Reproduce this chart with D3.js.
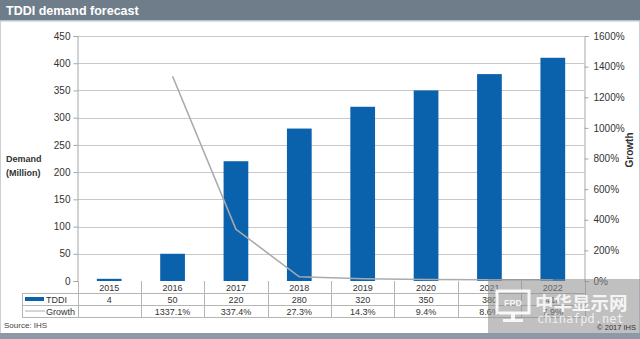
<!DOCTYPE html>
<html><head><meta charset="utf-8">
<script src="https://cdn.jsdelivr.net/npm/d3@7"></script>
<style>body{margin:0;background:#fff}svg{display:block;font-family:Arial,"Liberation Sans",sans-serif}</style>
</head><body>
<svg id="c" width="640" height="339"></svg>
<script>
const categories = ["2015","2016","2017","2018","2019","2020","2021","2022"];
const tddi = [4, 50, 220, 280, 320, 350, 380, 410];
const growth = [null, 1337.1, 337.4, 27.3, 14.3, 9.4, 8.6, 7.9];
const growthLabels = ["", "1337.1%", "337.4%", "27.3%", "14.3%", "9.4%", "8.6%", "7.9%"];
const leftTicks = [0,50,100,150,200,250,300,350,400,450];
const rightTicks = [0,200,400,600,800,1000,1200,1400,1600];

const svg = d3.select("#c");
const L = 77.5, R = 584.5, T = 36, B = 281;

// background frame
svg.append("rect").attr("x",0.5).attr("y",0.5).attr("width",639).attr("height",333).attr("fill","#fff").attr("stroke","#c9d0d8");
svg.append("rect").attr("x",0).attr("y",0).attr("width",640).attr("height",20).attr("fill","#6f7d8a");
svg.append("rect").attr("x",0).attr("y",20).attr("width",640).attr("height",1.5).attr("fill","#b8c3cf");
svg.append("text").attr("x",6).attr("y",14.5).attr("fill","#fff").attr("font-weight","bold").attr("font-size",12.5).text("TDDI demand forecast");
svg.append("rect").attr("x",0).attr("y",333).attr("width",640).attr("height",6).attr("fill","#8e99a8");

const x = d3.scaleBand().domain(categories).range([L,R]).paddingInner(0.61).paddingOuter(0.305);
const xb = d3.scaleBand().domain(categories).range([L,R]);
const y = d3.scaleLinear().domain([0,450]).range([B,T]);
const y2 = d3.scaleLinear().domain([0,1600]).range([B,T]);

// gridlines
svg.append("g").selectAll("line").data(leftTicks.filter(d=>d>0)).join("line")
  .attr("x1",L).attr("x2",R).attr("y1",d=>Math.round(y(d))+0.5).attr("y2",d=>Math.round(y(d))+0.5)
  .attr("stroke","#c8c8c8").attr("stroke-width",1);

// left axis
const la = svg.append("g").attr("transform",`translate(${L},0)`)
  .call(d3.axisLeft(y).tickValues(leftTicks).tickSize(4).tickPadding(3));
la.select(".domain").attr("stroke","#a6a6a6");
la.selectAll(".tick line").attr("stroke","#a6a6a6");
la.selectAll("text").attr("font-size",10).attr("fill","#333").attr("font-family","Arial, Liberation Sans, sans-serif");

// right axis
const ra = svg.append("g").attr("transform",`translate(${R},0)`)
  .call(d3.axisRight(y2).tickValues(rightTicks).tickSize(4).tickPadding(5).tickFormat(d=>d+"%"));
ra.select(".domain").attr("stroke","#a6a6a6");
ra.selectAll(".tick line").attr("stroke","#a6a6a6");
ra.selectAll("text").attr("font-size",10).attr("fill","#333").attr("font-family","Arial, Liberation Sans, sans-serif");

// bars
svg.append("g").selectAll("rect").data(tddi).join("rect")
  .attr("x",(d,i)=>x(categories[i])).attr("width",x.bandwidth())
  .attr("y",d=>y(d)).attr("height",d=>B-y(d)).attr("fill","#0a62ad");

// growth line
const line = d3.line().defined(d=>d.v!=null).x(d=>xb(d.c)+xb.bandwidth()/2).y(d=>y2(d.v));
svg.append("path").datum(categories.map((c,i)=>({c,v:growth[i]})))
  .attr("d",line).attr("fill","none").attr("stroke","#a8acb0").attr("stroke-width",1.6);

// axis titles
const dl = svg.append("text").attr("font-size",9).attr("font-weight","bold").attr("fill","#333");
dl.append("tspan").attr("x",6).attr("y",162).text("Demand");
dl.append("tspan").attr("x",6).attr("y",176).text("(Million)");
svg.append("text").attr("transform","translate(633,150) rotate(-90)").attr("text-anchor","middle")
  .attr("font-size",10).attr("font-weight","bold").attr("fill","#333").text("Growth");

// data table
const tb = svg.append("g");
const TL = 22.5;
tb.selectAll("line.v").data(d3.range(categories.length+1)).join("line")
  .attr("x1",i=>Math.round(xb.range()[0]+i*xb.bandwidth())+0.5).attr("x2",i=>Math.round(xb.range()[0]+i*xb.bandwidth())+0.5)
  .attr("y1",B).attr("y2",317.5).attr("stroke","#b5b5b5");
tb.append("line").attr("x1",TL).attr("x2",TL).attr("y1",293).attr("y2",317.5).attr("stroke","#b5b5b5");
[293.5,305.5,317.5].forEach(yy=>tb.append("line").attr("x1",TL).attr("x2",R).attr("y1",yy).attr("y2",yy).attr("stroke","#b5b5b5"));

const cx = c => xb(c)+xb.bandwidth()/2;
tb.selectAll("text.yr").data(categories).join("text").attr("x",cx).attr("y",291).attr("text-anchor","middle")
  .attr("font-size",9).attr("fill","#333").text(d=>d);
tb.selectAll("text.td").data(tddi).join("text").attr("x",(d,i)=>cx(categories[i])).attr("y",302.5).attr("text-anchor","middle")
  .attr("font-size",9).attr("fill","#333").text(d=>d);
tb.selectAll("text.gr").data(growthLabels).join("text").attr("x",(d,i)=>cx(categories[i])).attr("y",314.5).attr("text-anchor","middle")
  .attr("font-size",9).attr("fill","#333").text(d=>d);
// legend keys
tb.append("rect").attr("x",25).attr("y",297).attr("width",19).attr("height",4).attr("fill","#0a62ad");
tb.append("text").attr("x",46).attr("y",302.5).attr("font-size",9).attr("fill","#333").text("TDDI");
tb.append("line").attr("x1",25).attr("x2",45).attr("y1",311).attr("y2",311).attr("stroke","#a8acb0").attr("stroke-width",1);
tb.append("text").attr("x",46).attr("y",314.5).attr("font-size",9).attr("fill","#333").text("Growth");

svg.append("text").attr("x",4).attr("y",328).attr("font-size",8).attr("fill","#444").text("Source: IHS");

// watermark overlay
const wm = svg.append("g");
wm.append("rect").attr("x",488).attr("y",279).attr("width",152).attr("height",54).attr("fill","#8c8c8c").attr("opacity",0.55);
wm.append("rect").attr("x",497).attr("y",291).attr("width",32).attr("height",22).attr("fill","none").attr("stroke","#fff").attr("stroke-width",3).attr("opacity",0.9);
wm.append("text").attr("x",513).attr("y",306).attr("text-anchor","middle").attr("font-size",9).attr("font-weight","bold").attr("fill","#fff").attr("opacity",0.85).text("FPD");
wm.append("rect").attr("x",511).attr("y",314).attr("width",4).attr("height",6).attr("fill","#fff").attr("opacity",0.85);
wm.append("rect").attr("x",503).attr("y",319).attr("width",20).attr("height",3).attr("fill","#fff").attr("opacity",0.85);
wm.append("text").attr("x",535).attr("y",310).attr("font-size",18.5).attr("font-weight","bold").attr("fill","#fff").attr("opacity",0.85)
  .attr("font-family","Noto Sans CJK SC, sans-serif").text("中华显示网");
wm.append("text").attr("x",537).attr("y",323).attr("font-size",12).attr("fill","#fff").attr("opacity",0.75)
  .attr("font-family","DejaVu Sans Mono, monospace").text("chinafpd.net");

svg.append("text").attr("x",636).attr("y",330).attr("text-anchor","end").attr("font-size",7.5).attr("fill","#333").text("© 2017 IHS");
</script>
</body></html>
